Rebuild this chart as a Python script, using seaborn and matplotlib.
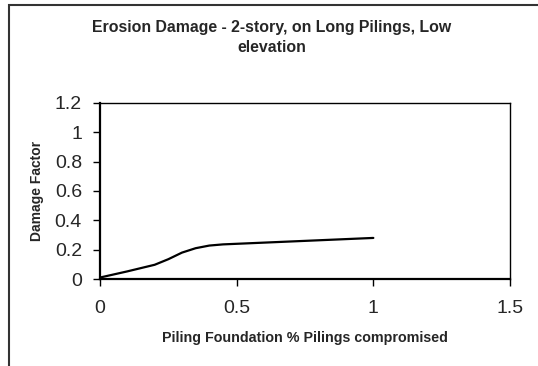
import matplotlib
matplotlib.use("Agg")
import matplotlib.pyplot as plt
import seaborn as sns
import pandas as pd
from matplotlib.patches import Rectangle

# Damage curve: fraction of pilings compromised vs. damage factor
pilings_compromised = [0.0, 0.1, 0.2, 0.25, 0.3, 0.35, 0.4, 0.45, 0.5, 0.6, 0.7, 0.8, 0.9, 1.0]
damage_factor = [0.01, 0.052, 0.097, 0.135, 0.18, 0.21, 0.228, 0.236, 0.24, 0.248, 0.256, 0.264, 0.272, 0.28]

x_ticks = [0, 0.5, 1, 1.5]
x_tick_labels = ["0", "0.5", "1", "1.5"]
y_ticks = [0, 0.2, 0.4, 0.6, 0.8, 1.0, 1.2]
y_tick_labels = ["0", "0.2", "0.4", "0.6", "0.8", "1", "1.2"]

title = "Erosion Damage - 2-story, on Long Pilings, Low\nelevation"
x_label = "Piling Foundation % Pilings compromised"
y_label = "Damage Factor"

sns.set_theme(style="white")
plt.rcParams["font.family"] = ["Liberation Sans", "DejaVu Sans"]

df = pd.DataFrame({"x": pilings_compromised, "y": damage_factor})

W, H = 538, 366
fig = plt.figure(figsize=(W / 100, H / 100), dpi=100)
fig.patch.set_facecolor("white")
# plot area: x 100..510 px, y 103..279 px
ax = fig.add_axes([100 / W, 1 - 279 / H, 410 / W, 176 / H])

sns.lineplot(data=df, x="x", y="y", ax=ax, color="black", linewidth=1.6)

ax.set_xlim(0, 1.5)
ax.set_ylim(0, 1.2)
ax.set_xticks(x_ticks)
ax.set_xticklabels(x_tick_labels, fontsize=14)
ax.set_yticks(y_ticks)
ax.set_yticklabels(y_tick_labels, fontsize=14)
ax.tick_params(axis="both", direction="out", length=5, width=1, color="black",
               bottom=True, left=True)
ax.tick_params(axis="y", pad=8)
ax.tick_params(axis="x", pad=10)

for side in ["left", "bottom"]:
    ax.spines[side].set_linewidth(1.6)
    ax.spines[side].set_color("black")
for side in ["top", "right"]:
    ax.spines[side].set_linewidth(1.0)
    ax.spines[side].set_color("black")
    ax.spines[side].set_visible(True)

ax.set_xlabel(x_label, fontsize=10.3, fontweight="bold")
ax.xaxis.set_label_coords(0.5, -(338 - 279) / 176, transform=ax.transAxes)
ax.xaxis.label.set_va("center")
ax.set_ylabel(y_label, fontsize=10, fontweight="bold")
ax.yaxis.set_label_coords(-(100 - 37) / 410, 0.5, transform=ax.transAxes)
ax.yaxis.label.set_va("center")

fig.text(272 / W, 1 - 37.5 / H, title, ha="center", va="center",
         fontsize=11.4, fontweight="bold", linespacing=1.35)

# Chart-area border, running off the right and bottom edges
fig.patches.append(Rectangle((9.3 / W, -0.1), 1.2, 1.1 - 5 / H,
                             transform=fig.transFigure, fill=False,
                             edgecolor="#333333", linewidth=1.5))

fig.savefig("out.png", dpi=100)
